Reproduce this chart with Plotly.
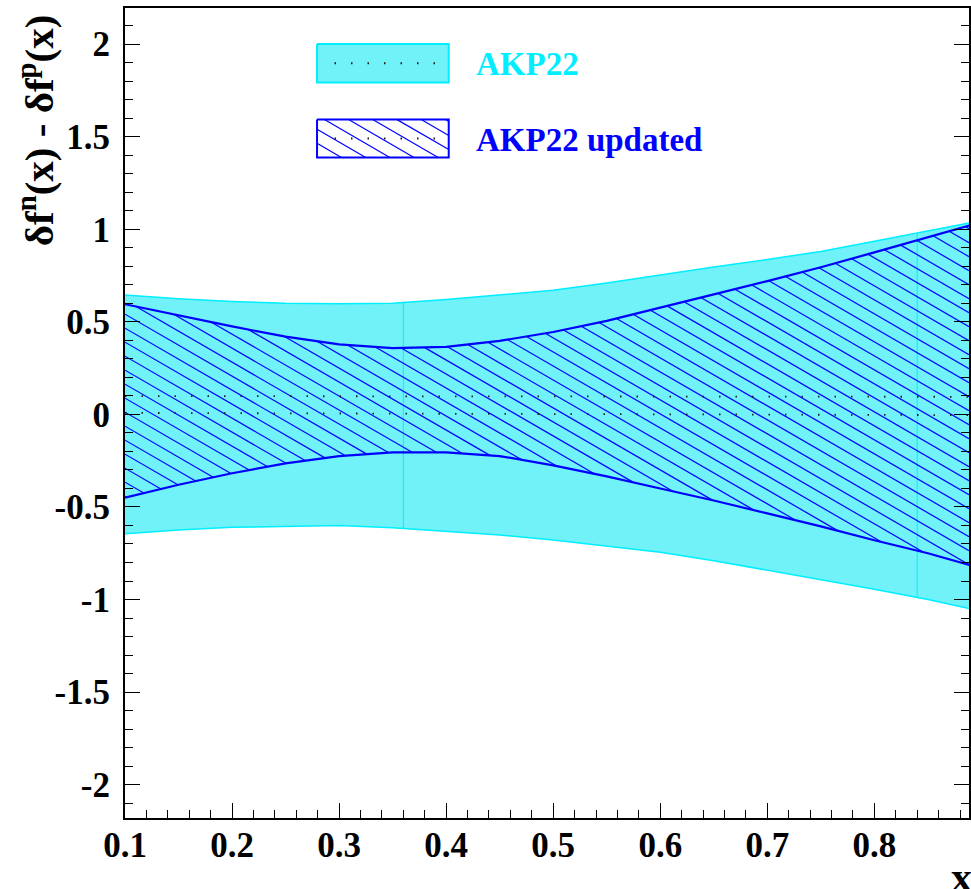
import numpy as np
import plotly.graph_objects as go

# ---------------- data ----------------
X = [0.10, 0.15, 0.20, 0.25, 0.30, 0.35, 0.40, 0.45, 0.50, 0.55,
     0.60, 0.65, 0.70, 0.75, 0.80, 0.85, 0.89]
AKP22_UP = [0.645, 0.625, 0.610, 0.600, 0.597, 0.600, 0.620, 0.645, 0.670, 0.710,
            0.755, 0.796, 0.837, 0.880, 0.935, 0.990, 1.035]
AKP22_LO = [-0.645, -0.625, -0.610, -0.603, -0.600, -0.612, -0.630, -0.652, -0.678, -0.710,
            -0.745, -0.790, -0.840, -0.892, -0.945, -1.000, -1.050]
AKP22_C = [0.008, 0.007, 0.006, 0.005, 0.004, 0.004, 0.003, 0.003, 0.002, 0.002,
           0.001, 0.000, 0.000, -0.001, -0.002, -0.003, -0.004]
UPD_UP = [0.595, 0.535, 0.475, 0.420, 0.378, 0.358, 0.365, 0.397, 0.445, 0.505,
          0.575, 0.648, 0.720, 0.795, 0.875, 0.955, 1.022]
UPD_LO = [-0.450, -0.380, -0.318, -0.265, -0.225, -0.205, -0.205, -0.225, -0.275, -0.335,
          -0.400, -0.465, -0.535, -0.605, -0.680, -0.750, -0.815]
UPD_C = [0.099, 0.099, 0.098, 0.098, 0.098, 0.097, 0.097, 0.097, 0.097, 0.096,
         0.096, 0.096, 0.096, 0.095, 0.095, 0.095, 0.095]
SEG_EDGES = [0.36, 0.84]  # visible polygon seams of the AKP22 band

X_TICKS = [0.1, 0.2, 0.3, 0.4, 0.5, 0.6, 0.7, 0.8]
X_LABELS = ["0.1", "0.2", "0.3", "0.4", "0.5", "0.6", "0.7", "0.8"]
Y_TICKS = [-2, -1.5, -1, -0.5, 0, 0.5, 1, 1.5, 2]
Y_LABELS = ["-2", "-1.5", "-1", "-0.5", "0", "0.5", "1", "1.5", "2"]
LEG_NAMES = ["AKP22", "AKP22 updated"]

# ---------------- layout geometry ----------------
FW, FH = 971, 889
L, T, W, H = 125, 8, 846, 810
XR = (0.1, 0.8884)
YR = (-2.18, 2.195)
FONT = "Liberation Serif"
CYAN = "rgb(0,238,255)"
CYAN_FILL = "rgb(112,242,248)"
BLUE = "rgb(0,0,255)"


def px_of_x(x):
    return L + (np.asarray(x, float) - XR[0]) / (XR[1] - XR[0]) * W


def py_of_y(y):
    return T + (YR[1] - np.asarray(y, float)) / (YR[1] - YR[0]) * H


def x_of_px(p):
    return XR[0] + (np.asarray(p, float) - L) / W * (XR[1] - XR[0])


def y_of_py(p):
    return YR[1] - (np.asarray(p, float) - T) / H * (YR[1] - YR[0])


def hatch(pmin, pmax, top_fn, bot_fn, spacing=14.0, angle=30.0, phase=0.0):
    """ROOT-like '\\' hatching in pixel space, clipped between two curves."""
    slope = np.tan(np.radians(angle))
    xs = np.arange(pmin, pmax + 0.2, 0.2)
    top = top_fn(xs)
    bot = bot_fn(xs)
    cmin = (top - slope * xs).min()
    cmax = (bot - slope * xs).max()
    start = np.floor((cmin - phase) / spacing) * spacing + phase
    segs = []
    for c in np.arange(start, cmax + spacing, spacing):
        ly = slope * xs + c
        inside = (ly >= top) & (ly <= bot)
        edges = np.flatnonzero(np.diff(np.concatenate([[0], inside.astype(int), [0]])))
        for s, e in zip(edges[::2], edges[1::2] - 1):
            if e > s:
                segs.append(((xs[s], ly[s]), (xs[e], ly[e])))
    return segs


fig = go.Figure()

# AKP22 band
fig.add_trace(go.Scatter(
    x=X + X[::-1], y=AKP22_UP + AKP22_LO[::-1], mode="lines",
    fill="toself", fillcolor=CYAN_FILL, line=dict(color=CYAN, width=1.5),
    hoverinfo="skip", showlegend=False))

# seam lines inside AKP22 band
for xe in SEG_EDGES:
    fig.add_trace(go.Scatter(
        x=[xe, xe], y=[np.interp(xe, X, AKP22_LO), np.interp(xe, X, AKP22_UP)],
        mode="lines", line=dict(color=CYAN, width=1), hoverinfo="skip", showlegend=False))

# hatching of updated band
Xa = np.array(X)
segs = hatch(L, L + W,
             lambda p: py_of_y(np.interp(x_of_px(p), Xa, UPD_UP)),
             lambda p: py_of_y(np.interp(x_of_px(p), Xa, UPD_LO)),
             phase=4.0)
hx, hy = [], []
for (a, b) in segs:
    hx += [float(x_of_px(a[0])), float(x_of_px(b[0])), None]
    hy += [float(y_of_py(a[1])), float(y_of_py(b[1])), None]
fig.add_trace(go.Scatter(x=hx, y=hy, mode="lines", line=dict(color=BLUE, width=1.2),
                         hoverinfo="skip", showlegend=False))

# updated band edges
for arr in (UPD_UP, UPD_LO):
    fig.add_trace(go.Scatter(x=X, y=arr, mode="lines", line=dict(color=BLUE, width=2.2),
                             hoverinfo="skip", showlegend=False))

# central values (dotted)
for arr in (AKP22_C, UPD_C):
    fig.add_trace(go.Scatter(x=X, y=arr, mode="lines",
                             line=dict(color="rgb(30,30,30)", width=1.8, dash="1.5px,15px"),
                             hoverinfo="skip", showlegend=False))

# ---------------- custom ROOT-style legend ----------------
BOX_X = (317.5, 449.5)
BOXES_Y = [(44.0, 82.5), (119.5, 157.5)]
box_cols = [CYAN, BLUE]
for i, (y0, y1) in enumerate(BOXES_Y):
    bx = [BOX_X[0], BOX_X[1], BOX_X[1], BOX_X[0], BOX_X[0]]
    by = [y0, y0, y1, y1, y0]
    if i == 0:
        fig.add_trace(go.Scatter(x=x_of_px(bx), y=y_of_py(by), mode="lines", fill="toself",
                                 fillcolor=CYAN_FILL, line=dict(color=CYAN, width=2),
                                 hoverinfo="skip", showlegend=False))
    else:
        lsegs = hatch(BOX_X[0], BOX_X[1],
                      lambda p, v=y0: np.full_like(p, v), lambda p, v=y1: np.full_like(p, v),
                      phase=2.0)
        lx, ly = [], []
        for (a, b) in lsegs:
            lx += [float(x_of_px(a[0])), float(x_of_px(b[0])), None]
            ly += [float(y_of_py(a[1])), float(y_of_py(b[1])), None]
        fig.add_trace(go.Scatter(x=lx, y=ly, mode="lines", line=dict(color=BLUE, width=1.2),
                                 hoverinfo="skip", showlegend=False))
        fig.add_trace(go.Scatter(x=x_of_px(bx), y=y_of_py(by), mode="lines",
                                 line=dict(color=BLUE, width=2),
                                 hoverinfo="skip", showlegend=False))
    ym = (y0 + y1) / 2
    fig.add_trace(go.Scatter(x=x_of_px([335, 440]), y=y_of_py([ym, ym]), mode="lines",
                             line=dict(color="rgb(30,30,30)", width=1.8, dash="1.5px,15px"),
                             hoverinfo="skip", showlegend=False))
    fig.add_annotation(x=float(x_of_px(475)), y=float(y_of_py(ym + 1)), xref="x", yref="y",
                       text="<b>%s</b>" % LEG_NAMES[i], showarrow=False,
                       xanchor="left", yanchor="middle",
                       font=dict(family=FONT, size=33, color=box_cols[i]))

# axis titles
fig.add_annotation(x=(36 - L) / W, y=1 - (130 - T) / H, xref="paper", yref="paper",
                   text="<b>δf<sup>n</sup>(x) - δf<sup>p</sup>(x)</b>", textangle=-90,
                   showarrow=False, xanchor="center", yanchor="middle",
                   font=dict(family=FONT, size=41, color="black"))
fig.add_annotation(x=(951 - L) / W, y=1 - (877 - T) / H, xref="paper", yref="paper",
                   text="<b>x</b>", showarrow=False, xanchor="left", yanchor="middle",
                   font=dict(family=FONT, size=42, color="black"))

tickfont = dict(family=FONT, size=35, color="black", weight="bold")
fig.update_xaxes(range=list(XR), tickvals=X_TICKS, ticktext=X_LABELS, ticks="inside",
                 ticklen=15, tickwidth=1.3, tickcolor="black", showline=True, linewidth=2,
                 linecolor="black", mirror=True, showgrid=False, zeroline=False,
                 tickfont=tickfont, ticklabelstandoff=-5,
                 minor=dict(ticks="inside", ticklen=8, dtick=0.02, tick0=0.1,
                            tickcolor="black", tickwidth=1.2, showgrid=False))
fig.update_yaxes(range=list(YR), tickvals=Y_TICKS, ticktext=Y_LABELS, ticks="inside",
                 ticklen=15, tickwidth=1.3, tickcolor="black", showline=True, linewidth=2,
                 linecolor="black", mirror="ticks", showgrid=False, zeroline=False,
                 tickfont=tickfont, ticklabelstandoff=6,
                 minor=dict(ticks="inside", ticklen=8, dtick=0.1, tick0=0,
                            tickcolor="black", tickwidth=1.2, showgrid=False))
fig.update_layout(width=FW, height=FH, margin=dict(l=L, r=FW - L - W, t=T, b=FH - T - H),
                  paper_bgcolor="white", plot_bgcolor="white", showlegend=False)

fig.write_html("out.html")
